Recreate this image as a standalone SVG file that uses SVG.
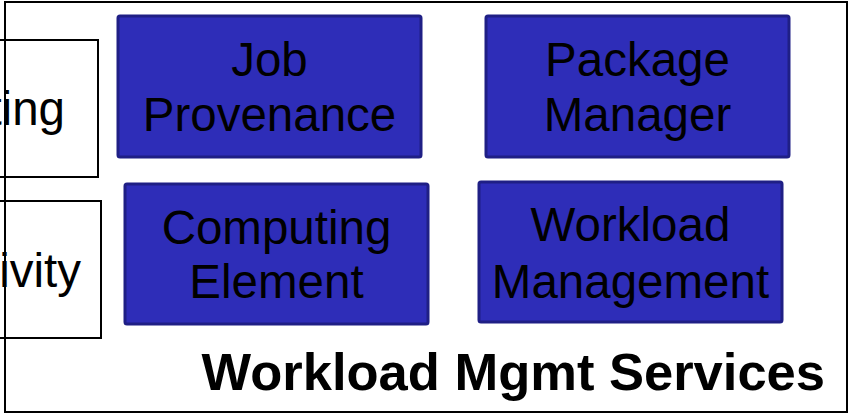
<svg xmlns="http://www.w3.org/2000/svg" width="856" height="419" viewBox="0 0 856 419">
<style>
.frame{fill:none;stroke:#000000;stroke-width:2}
.box{fill:none;stroke:#000000;stroke-width:2}
.svc{fill:#2e2db8;stroke:#1f1f85;stroke-width:3}
.t{font-family:"Liberation Sans",Arial,sans-serif;font-size:47.5px;fill:#000000;text-anchor:middle}
.title{font-family:"Liberation Sans",Arial,sans-serif;font-size:52.5px;font-weight:bold;fill:#000000;text-anchor:end}
</style>
<rect width="856" height="419" fill="#ffffff"/>
<g id="left-top">
<rect class="box" x="-60" y="40" width="158" height="137"/>
<text class="t" x="65" y="125" style="text-anchor:end">ting</text>
</g>
<g id="left-bottom">
<rect class="box" x="-60" y="201" width="161" height="137"/>
<text class="t" x="81" y="287" style="text-anchor:end">ivity</text>
</g>
<g id="workload-mgmt-services">
<rect class="frame" x="5" y="2" width="842" height="410"/>
<text class="title" x="825" y="390">Workload Mgmt Services</text>
</g>
<g id="job-provenance">
<rect class="svc" x="118" y="16" width="303" height="141" rx="2"/>
<text class="t" x="269.5" y="76">Job</text>
<text class="t" x="269.5" y="131">Provenance</text>
</g>
<g id="package-manager">
<rect class="svc" x="486" y="16" width="303" height="141" rx="2"/>
<text class="t" x="637.5" y="76">Package</text>
<text class="t" x="637.5" y="131">Manager</text>
</g>
<g id="computing-element">
<rect class="svc" x="125" y="184" width="303" height="140" rx="2"/>
<text class="t" x="276.5" y="244">Computing</text>
<text class="t" x="276.5" y="298">Element</text>
</g>
<g id="workload-management">
<rect class="svc" x="479" y="182" width="303" height="140" rx="2"/>
<text class="t" x="630.5" y="241">Workload</text>
<text class="t" x="630.5" y="298">Management</text>
</g>
<g id="connectors"></g>
</svg>
